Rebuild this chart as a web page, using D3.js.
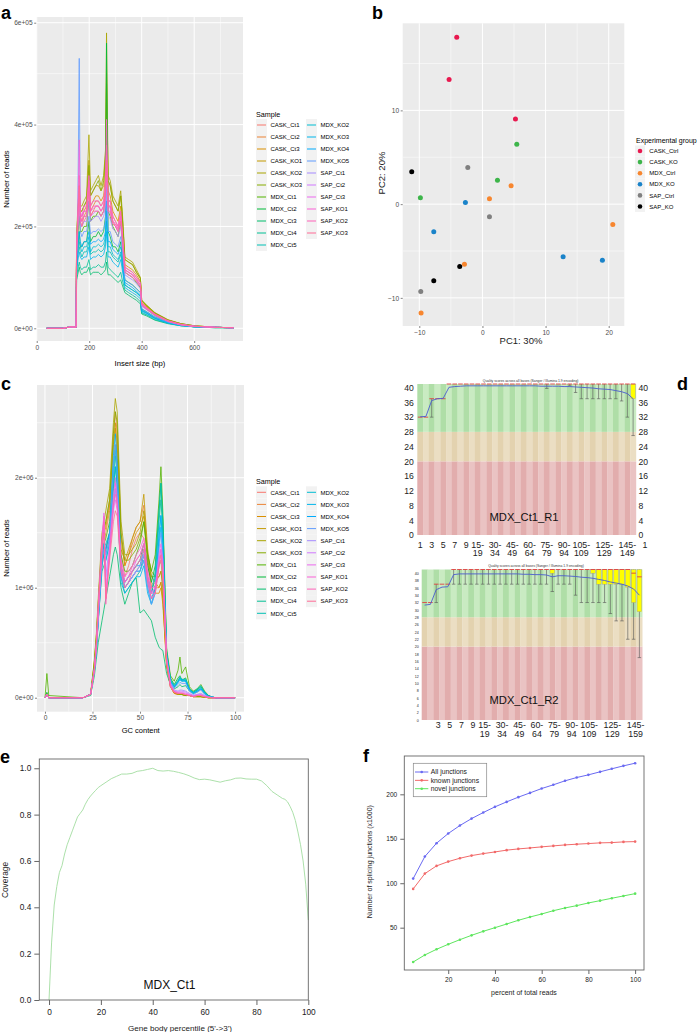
<!DOCTYPE html>
<html><head><meta charset="utf-8">
<script src="https://cdn.jsdelivr.net/npm/d3@7"></script>
<style>body{margin:0;background:#fff}svg{display:block}</style>
</head><body><script>
// ================= DATA =================
const sampleNames = ["CASK_Ct1","CASK_Ct2","CASK_Ct3","CASK_KO1","CASK_KO2","CASK_KO3","MDX_Ct1","MDX_Ct2","MDX_Ct3","MDX_Ct4","MDX_Ct5","MDX_KO2","MDX_KO3","MDX_KO4","MDX_KO5","SAP_Ct1","SAP_Ct2","SAP_Ct3","SAP_KO1","SAP_KO2","SAP_KO3"];

// (a) insert size (bp) and number of reads (x1e4) per sample
const insertSize = [38,100,130,150,152,156,162,166,172,180,190,199,205,215,225,235,245,255,262,266,272,280,290,300,310,320,326,336,350,365,380,395,400,420,450,500,550,600,680,750];
const isCASK_Ct1 = [0,0,0.3,0.2,15,19,27,21,20,21,22,27,22,23,24,24,23,24,27,38,24,24,21,20,19,22,18,11.5,11,10.5,9.5,8.5,4.8,4,2.7,1.5,0.8,0.4,0.2,0.1];
const isCASK_Ct2 = [0,0,0.3,0.2,16,20,25,22,21,22,23,29,23,24,25,25,24,25,28,40,25,25,22,21,20,23,19,12,11.5,11,10,9,5,4.1,2.8,1.5,0.8,0.4,0.2,0.1];
const isCASK_Ct3 = [0,0,0.3,0.2,16,21,26,22,22,23,24,31,24,25,26,26,25,26,30,44,27,26,23,22,21,24,20,12.5,12,11.5,10.5,9.2,5.1,4.2,2.9,1.6,0.8,0.4,0.2,0.1];
const isCASK_KO1 = [0,0,0.3,0.2,17,22,27,23,23,24,25,33,26,27,28,28,27,28,33,50,29,28,25,24,23,26,22,13.5,13,12.5,11,9.8,5.4,4.4,3,1.6,0.9,0.5,0.2,0.1];
const isCASK_KO2 = [0,0,0.3,0.2,18,23,28,24,24,25,26,38,27,28,29,30,28,30,35,58,30,29,26,25,24,27,23,14,13.5,13,11.5,10,5.6,4.5,3.1,1.7,0.9,0.5,0.2,0.1];
const isCASK_KO3 = [0,0,0.3,0.2,17,22,26,23,23,24,25,32,26,27,28,29,27,29,34,48,29,28,25,24,23,26,22,13.5,13,12.5,11,9.8,5.4,4.4,3,1.6,0.9,0.5,0.2,0.1];
const isMDX_Ct1 = [0,0,0.3,0.2,14,18,22,19,19,20,20,25,21,22,22,23,22,23,26,34,23,22,20,19,18,21,17,11,10.5,10,9,8,4.5,3.7,2.5,1.3,0.7,0.4,0.2,0.1];
const isMDX_Ct2 = [0,0,0.3,0.2,12,15,19,16,16,17,17,21,17,18,18,19,18,19,22,56,19,18,16,16,15,17,14,9.5,9,8.5,7.8,7,3.8,3.2,2.2,1.2,0.6,0.3,0.2,0.1];
const isMDX_Ct3 = [0,0,0.3,0.2,9.5,10.5,12,11,10.5,11,11,12,10.5,11,11,11,10.5,11,11.5,13,10.5,10.5,10,9.5,9,9.5,8.5,7,6.5,6,5.5,4.8,2.8,2.4,1.6,0.9,0.5,0.3,0.1,0.1];
const isMDX_Ct4 = [0,0,0.3,0.2,10,11.5,13,12,11.5,12,12,13.5,11.5,12,12,12.5,12,12,13,15,12,11.5,11,10.5,10,11,9.5,7.5,7,6.5,6,5.2,3,2.6,1.7,1,0.5,0.3,0.1,0.1];
const isMDX_Ct5 = [0,0,0.3,0.2,12,14,16,15,14,15,15,17,14.5,15,15,15.5,15,15.5,17,21,15,15,14,13.5,13,14.5,12.5,8.5,8,7.5,7,6.2,3.4,2.9,2,1.1,0.6,0.3,0.2,0.1];
const isMDX_KO2 = [0,0,0.3,0.2,12,15,17,16,15,16,16,18,15,16,16,16.5,16,16.5,18,23,16,16,14.5,14,13.5,15,13,8.5,8,7.5,7,6.3,3.5,3,2,1.1,0.6,0.3,0.2,0.1];
const isMDX_KO3 = [0,0,0.3,0.2,11,13,15,14,13.5,14,14,16,13.5,14,14,14.5,14,14.5,16,19,14,14,13,12.5,12,13.5,11.5,8,7.5,7,6.5,5.8,3.2,2.7,1.9,1,0.5,0.3,0.2,0.1];
const isMDX_KO4 = [0,0,0.3,0.2,13,16,19,17,16,17,17,19,16.5,17,17,17.5,17,17.5,19,25,17,17,15.5,15,14.5,16,14,9,8.5,8,7.3,6.5,3.6,3,2.1,1.1,0.6,0.3,0.2,0.1];
const isMDX_KO5 = [0,0,0.3,0.2,14,20,53,19,18,19,19,22,18.5,19,19,19.5,19,19.5,21,28,19,19,17,16.5,16,18,15.5,9.5,9,8.5,7.8,7,3.9,3.2,2.2,1.2,0.6,0.3,0.2,0.1];
const isSAP_Ct1 = [0,0,0.3,0.2,15,19,24,20,20,21,21,25,21,21.5,22,22,21,22,24,30,22,21.5,19.5,19,18,20,17,10.5,10,9.5,8.8,7.8,4.3,3.6,2.5,1.3,0.7,0.4,0.2,0.1];
const isSAP_Ct2 = [0,0,0.3,0.2,15,20,26,21,21,22,22,27,22,22.5,23,23,22,23,25,32,23,22.5,20.5,20,19,21,18,11,10.5,10,9.2,8.2,4.5,3.7,2.6,1.4,0.7,0.4,0.2,0.1];
const isSAP_Ct3 = [0,0,0.3,0.2,16,20,28,22,22,23,23,28,23,23.5,24,24,23,24,26,34,24,23.5,21,20.5,19.5,22,18.5,11.5,11,10.5,9.5,8.5,4.7,3.8,2.7,1.4,0.7,0.4,0.2,0.1];
const isSAP_KO1 = [0,0,0.3,0.2,17,22,37,23,22,24,24,30,24,25,25,25,24,25,29,41,25,25,22,21,20,23,19,12,11.5,11,10,9,5,4,2.8,1.5,0.8,0.4,0.2,0.1];
const isSAP_KO2 = [0,0,0.3,0.2,16,21,30,22,21,23,23,29,23,24,24,24,23,24,27,36,24,24,21,20.5,19.5,22,18.5,11.5,11,10.5,9.6,8.6,4.8,3.9,2.7,1.4,0.7,0.4,0.2,0.1];
const isSAP_KO3 = [0,0,0.3,0.2,15,20,28,21,20,22,22,27,22,23,23,23,22,23,26,33,23,23,20.5,20,19,21,18,11,10.5,10,9.2,8.2,4.6,3.7,2.6,1.4,0.7,0.4,0.2,0.1];

// (c) GC content (%) and number of reads (x1e5) per sample
const gcContent = [0,1,2,20,24,26,27,28,30,31,32,34,36,37,38,40,42,44,46,48,50,52,54,56,58,60,61,62,64,66,68,70,71,72,74,76,78,80,82,84,86,88,90,100];
const gcCASK_Ct1 = [0,0.3,0,0,0.3,2.5,4.5,7,12,13,13.5,15,19,20,18,13,11,12,13.5,14.5,15,14.5,12,10,10.5,11,11.5,10,3,1,0.4,0.3,0.3,0.3,0.2,0.2,0.1,0.1,0.1,0.05,0,0,0,0];
const gcCASK_Ct2 = [0,0.3,0,0,0.3,2.8,5,7.5,13,14,15,17,24,26,24,15,12,13,14.5,15.5,16,17.5,13,10.5,10,10,10.5,9,3,1,0.4,0.3,0.3,0.3,0.2,0.2,0.1,0.1,0.1,0.05,0,0,0,0];
const gcCASK_Ct3 = [0,0.3,0,0,0.3,3,5.2,8,14,15,15.5,17.5,23,25,23,14.5,12,13,14,15,15.5,16.5,12.5,10,9.5,9.5,10,8.5,2.8,1,0.4,0.3,0.3,0.3,0.2,0.2,0.1,0.1,0.1,0.05,0,0,0,0];
const gcCASK_KO1 = [0,0.3,0,0,0.3,3.2,5.5,8.5,14,15,16,18,23,24.5,22,13.5,12.5,13.5,14.5,15.5,16,18.5,13.5,11,10.5,10,10.5,9,3,1.1,0.5,0.3,0.3,0.3,0.2,0.2,0.1,0.1,0.1,0.05,0,0,0,0];
const gcCASK_KO2 = [0,0.3,0,0,0.3,3.5,5.7,9,15,16,17,19,25,27.2,26,16,13,13,13.5,14,15,17,13,11.5,11,11,11.5,10,3.2,1.2,0.5,0.3,0.3,0.3,0.2,0.2,0.1,0.1,0.1,0.05,0,0,0,0];
const gcCASK_KO3 = [0,0.4,0,0,0.3,3.3,5.5,8.5,14.5,15.5,16,18,24,26,25,15,12.5,12.5,13,13.5,14.5,16,12.5,11,11,12,12.5,10.5,3.3,1.2,0.5,0.4,0.3,0.3,0.2,0.2,0.1,0.1,0.1,0.05,0,0,0,0];
const gcMDX_Ct1 = [0,2.2,0.2,0,0.3,2.8,5,8,13,14,14.5,16,21,23,21,13,11.5,11.5,12,13,14,16,13,11.5,13,18,21,17,4.5,2,1.5,2.5,3.7,2.2,2.8,1,0.6,0.8,1.2,0.6,0.2,0.05,0,0];
const gcMDX_Ct2 = [0,0.5,0,0,0.3,2.6,4.6,7.5,12.5,13,13.5,15,19,21,19.5,12,10.5,11,11.5,12,12.5,14,12,10.5,12,17,19.5,16,4.2,1.8,1.2,1.8,2,1.6,1.8,0.8,0.5,0.7,1,0.5,0.2,0.05,0,0];
const gcMDX_Ct3 = [0,0.3,0,0,0.2,2,3.5,5,7,8,9,11,13,13.7,13,10,8.5,9.5,10.5,10.9,7.7,8,7.5,7,5.5,4.6,4.4,4.3,2.2,1.2,0.8,1,1.2,1,1.1,0.6,0.4,0.5,0.8,0.4,0.1,0.05,0,0];
const gcMDX_Ct4 = [0,0.3,0,0,0.3,2.4,4.2,7,11.5,12,12.5,14,17.5,19,18,11,9.5,10,10.5,11,11.5,13,11,9.5,11,16,18,15,4,1.6,1,1.5,1.8,1.5,1.6,0.8,0.5,0.7,1,0.5,0.2,0.05,0,0];
const gcMDX_Ct5 = [0,0.3,0,0,0.3,2.6,4.6,7.5,12.5,13.5,14,15,20,22,20,12,10,10.5,11,11.5,12,13.5,11,9.5,11.5,17,19.5,16,4.2,1.7,1.1,1.6,1.9,1.6,1.7,0.8,0.5,0.8,1.1,0.5,0.2,0.05,0,0];
const gcMDX_KO2 = [0,0.3,0,0,0.3,2.5,4.4,7,12.5,14,13,14.5,21,22.5,20.5,11,10,10.5,11,11.5,11.5,12.5,10,8.5,10,14.5,16.5,14,3.8,1.5,1,1.5,1.8,1.7,1.6,0.7,0.4,0.6,0.9,0.4,0.1,0.05,0,0];
const gcMDX_KO3 = [0,0.3,0,0,0.3,2.4,4.2,6.8,12,13,12.5,14,19.5,21,19,10.5,9.5,10,10.5,11,11,12,9.5,8.5,9.5,14,15.5,13,3.6,1.4,0.9,1.4,1.7,1.6,1.5,0.7,0.4,0.6,0.8,0.4,0.1,0.05,0,0];
const gcMDX_KO4 = [0,0.3,0,0,0.3,2.6,4.5,7.2,13,14,13.5,15,22,24,21.5,11.5,10.5,11,11.5,12,12,13,10.5,9,10,15,16.6,14,3.9,1.5,1,1.4,1.6,1.5,1.5,0.7,0.4,0.6,0.8,0.4,0.1,0.05,0,0];
const gcMDX_KO5 = [0,0.3,0,0,0.3,2.5,4.3,7,12.5,13.5,13,14.5,21,23,20.5,11,10,10.5,11,11.5,11.5,12.5,10,8.5,9.5,13.5,15,12.5,3.6,1.4,0.9,1.2,1.4,1.3,1.3,0.6,0.3,0.5,0.7,0.3,0.1,0.05,0,0];
const gcSAP_Ct1 = [0,0.3,0,0,0.3,2.5,4.5,7.5,13,15.5,11,14,18.5,20,18.5,12,10.5,11,11.5,12,12.5,13.5,11,9.5,10,12.5,13.5,12,3.5,1.3,0.7,0.6,0.7,0.7,0.6,0.4,0.2,0.3,0.4,0.2,0.05,0,0,0];
const gcSAP_Ct2 = [0,0.3,0,0,0.3,2.4,4.4,7.5,13.5,16,10,13.5,17.5,19,17.5,11.5,10,10.5,11,11.5,12,13,10.5,9,9.5,12,13,11.5,3.4,1.2,0.6,0.5,0.6,0.6,0.5,0.3,0.2,0.3,0.3,0.2,0.05,0,0,0];
const gcSAP_Ct3 = [0,0.3,0,0,0.3,2.6,4.8,8,14,16.8,9.5,13,17,18,17,12,10.5,11,11.5,12.5,13,14,11,9.5,10,13,14,12.5,3.5,1.2,0.6,0.5,0.5,0.5,0.4,0.3,0.2,0.2,0.3,0.1,0.05,0,0,0];
const gcSAP_KO1 = [0,0.3,0,0,0.3,2.7,5,8.5,14.5,16.5,9,13.5,18,19.5,18,12.5,11,11.5,12,13,13.5,14.5,11.5,10,10,12.5,13.5,12,3.4,1.1,0.5,0.4,0.4,0.4,0.3,0.2,0.1,0.2,0.2,0.1,0.05,0,0,0];
const gcSAP_KO2 = [0,0.3,0,0,0.3,2.6,4.9,8,14,16,8.5,13,17.5,18.5,17.5,12,10.5,11,12,12.5,13,14,11,9.5,9.5,12,12.5,11,3.2,1,0.5,0.4,0.4,0.4,0.3,0.2,0.1,0.2,0.2,0.1,0.05,0,0,0];
const gcSAP_KO3 = [0,0.3,0,0,0.3,2.5,4.7,7.8,13.5,15,9,12.5,16,17,16.5,11.5,10,10.5,11.5,12,12.5,13.5,10.5,9,9.5,12,13,11.5,3.3,1,0.5,0.4,0.4,0.4,0.3,0.2,0.1,0.2,0.2,0.1,0.05,0,0,0];

// (b) PCA
const pcaGroups = ["CASK_Ctrl","CASK_KO","MDX_Ctrl","MDX_KO","SAP_Ctrl","SAP_KO"];
const pcaGroupColors = ["#E8194F","#3DB54A","#F7862F","#1A83C9","#808080","#000000"];
const pcaGroup = ["CASK_Ctrl","CASK_Ctrl","CASK_Ctrl","CASK_KO","CASK_KO","CASK_KO","MDX_Ctrl","MDX_Ctrl","MDX_Ctrl","MDX_Ctrl","MDX_Ctrl","MDX_KO","MDX_KO","MDX_KO","MDX_KO","SAP_Ctrl","SAP_Ctrl","SAP_Ctrl","SAP_KO","SAP_KO","SAP_KO"];
const pc1 = [-4.07,-5.28,5.23, 5.44,2.38,-9.83, 4.54,1.11,20.65,-2.85,-9.72, -2.7,-7.71,12.78,19.0, -2.32,1.11,-9.77, -11.2,-3.6,-7.71];
const pc2 = [17.8,13.3,9.07, 6.4,2.56,0.67, 1.96,0.57,-2.17,-6.4,-11.6, 0.18,-2.95,-5.62,-5.98, 3.91,-1.35,-9.32, 3.45,-6.65,-8.18];

// (d) per-base quality (FastQC), 38 base-position bins
const baseBinLabelsR1 = [[0,"1",""],[2,"3",""],[4,"5",""],[6,"7",""],[8,"9",""],[10,"15-","19"],[13,"30-","34"],[16,"45-","49"],[19,"60-","64"],[22,"75-","79"],[25,"90-","94"],[28,"105-","109"],[32,"125-","129"],[36,"145-","149"]];
const baseBinLabelsR2 = [[2,"3",""],[4,"5",""],[6,"7",""],[8,"9",""],[10,"15-","19"],[13,"30-","34"],[16,"45-","49"],[19,"60-","64"],[22,"75-","79"],[25,"90-","94"],[28,"105-","109"],[32,"125-","129"],[36,"145-","159"]];
const r1Mean = [32.1,32.2,36.5,37,37.1,40.1,40.3,40.4,40.5,40.5,40.5,40.5,40.5,40.5,40.5,40.5,40.5,40.5,40.5,40.5,40.5,40.4,40.4,40.4,40.4,40.3,40.3,40.2,40.1,40.0,39.9,39.7,39.6,39.5,39.2,38.9,38.4,37.0];
const r1Median = [32,32,37,37,37,41,41,41,41,41,41,41,41,41,41,41,41,41,41,41,41,41,41,41,41,41,41,41,41,41,41,41,41,41,41,41,41,41];
const r1Low = [32,32,32,37,37,41,41,41,41,41,41,41,41,41,41,41,41,41,41,41,41,41,39.8,41,41,41,40.5,38.7,37,37,37,37,37,37,37,36.4,32,27];
const r1High = [32,32,37,37,37,41,41,41,41,41,41,41,41,41,41,41,41,41,41,41,41,41,41,41,41,41,41,41,41,41,41,41,41,41,41,41,41,41];
const r1Q25 = [32,32,37,37,37,41,41,41,41,41,41,41,41,41,41,41,41,41,41,41,41,41,41,41,41,41,41,41,41,41,41,41,41,41,41,41,41,37];
const r1Q75 = r1High;
const r2Mean = [31.3,31.5,35.5,36.2,36.3,39.6,39.8,39.8,39.8,39.8,39.8,39.8,39.8,39.8,39.8,39.8,39.8,39.7,39.7,39.6,39.6,39.5,39.0,39.3,39.3,39.2,39.1,38.9,38.8,38.6,38.3,38.0,37.6,37.3,37.0,36.5,35.7,34.0];
const r2Median = [32,32,37,37,37,41,41,41,41,41,41,41,41,41,41,41,41,41,41,41,41,41,41,41,41,41,41,41,41,41,41,41,41,41,41,41,40,39];
const r2Low = [32,32,32,37,37,37,37,37,37,37,37,37,37,37,37,37,37,37,37,37,37,37,35,37,37,37,34,32,32,32,32,32,29,27,27,22,22,17];
const r2High = [32,32,37,37,37,41,41,41,41,41,41,41,41,41,41,41,41,41,41,41,41,41,41,41,41,41,41,41,41,41,41,41,41,41,41,41,41,41];
const r2Q25 = [32,32,37,37,37,41,41,41,41,41,41,41,41,41,41,41,41,41,41,41,41,41,40,41,41,41,41,41,41,40,37,37,37,37,37,36.2,32,29.5];
const r2Q75 = r2High;

// (e) gene body coverage
const geneBodyPct = [0,1,2,3,4,5,6,7,8,9,10,11,12,13,14,15,16,17,18,19,20,22,24,26,28,30,32,34,36,38,40,42,44,46,48,50,52,54,56,58,60,62,64,66,68,70,72,74,76,78,80,82,84,86,88,90,91,92,93,94,95,96,97,98,99,100];
const coverage = [0,0.25,0.41,0.49,0.55,0.58,0.63,0.67,0.7,0.73,0.76,0.79,0.805,0.82,0.845,0.865,0.88,0.893,0.905,0.917,0.925,0.94,0.955,0.965,0.975,0.975,0.978,0.987,0.99,0.995,1.0,0.99,0.988,0.99,0.987,0.982,0.976,0.968,0.958,0.951,0.953,0.95,0.945,0.94,0.946,0.95,0.957,0.958,0.954,0.953,0.953,0.945,0.925,0.9,0.885,0.87,0.866,0.855,0.835,0.81,0.775,0.725,0.67,0.6,0.5,0.345];

// (f) junction saturation
const pctReads = [5,10,15,20,25,30,35,40,45,50,55,60,65,70,75,80,85,90,95,100];
const allJunctions = [105.2,130,145,155.9,164.9,172.7,179.5,185.9,191.5,196.8,201.6,206.5,210.7,215.2,218.9,221.9,225.3,228.7,232,235];
const knownJunctions = [93.6,110.8,119.5,124.3,128.1,131.1,133.3,135.2,137.2,138.6,139.7,140.9,142,143.1,143.9,144.6,145.4,145.7,146.5,146.8];
const novelJunctions = [11.4,19.3,25.7,31.3,36.5,41.4,45.9,50,54.1,58.3,62,65.4,69.1,72.2,74.8,77.8,80.4,83.1,85.7,88.3];
const junctionLegend = ["All junctions","known junctions","novel junctions"];

// ================= HELPERS =================
const FONT = '"Liberation Sans", Arial, Helvetica, sans-serif';
const svg = d3.select("body").append("svg").attr("width",697).attr("height",1032).style("font-family",FONT);

function hclLuv(h,c,l){
  const r=Math.PI/180, Xn=0.95047, Yn=1, Zn=1.08883;
  const un=4*Xn/(Xn+15*Yn+3*Zn), vn=9*Yn/(Xn+15*Yn+3*Zn);
  const U=c*Math.cos(h*r), V=c*Math.sin(h*r);
  const Y=Yn*(l>8?Math.pow((l+16)/116,3):l/903.3);
  const u=U/(13*l)+un, v=V/(13*l)+vn;
  const X=9*Y*u/(4*v), Z=Y*(12-3*u-20*v)/(4*v);
  const lin=[3.240479*X-1.537150*Y-0.498535*Z,-0.969256*X+1.875992*Y+0.041556*Z,0.055648*X-0.204043*Y+1.057311*Z];
  const g=t=>t<=0.0031308?12.92*t:1.055*Math.pow(t,1/2.4)-0.055;
  const c3=lin.map(t=>Math.round(255*Math.max(0,Math.min(1,g(t)))));
  return d3.rgb(c3[0],c3[1],c3[2]).formatHex();
}
const sampleColors = sampleNames.map((s,i)=>hclLuv(15+i*360/sampleNames.length,100,65));

function fmtE(v){
  if(v===0) return "0e+00";
  const e=Math.floor(Math.log10(v)+1e-9), m=Math.round(v/Math.pow(10,e));
  return m+"e+"+String(e).padStart(2,"0");
}

function ggPanel(xs,ys,xMaj,xMin,yMaj,yMin){
  const g=svg.append("g");
  const [x0,x1]=xs.range(), [y1,y0]=ys.range();
  g.append("rect").attr("x",x0).attr("y",y0).attr("width",x1-x0).attr("height",y1-y0).attr("fill","#EBEBEB");
  xMin.forEach(v=>g.append("line").attr("x1",xs(v)).attr("x2",xs(v)).attr("y1",y0).attr("y2",y1).attr("stroke","#fff").attr("stroke-width",0.5));
  yMin.forEach(v=>g.append("line").attr("y1",ys(v)).attr("y2",ys(v)).attr("x1",x0).attr("x2",x1).attr("stroke","#fff").attr("stroke-width",0.5));
  xMaj.forEach(v=>g.append("line").attr("x1",xs(v)).attr("x2",xs(v)).attr("y1",y0).attr("y2",y1).attr("stroke","#fff").attr("stroke-width",1));
  yMaj.forEach(v=>g.append("line").attr("y1",ys(v)).attr("y2",ys(v)).attr("x1",x0).attr("x2",x1).attr("stroke","#fff").attr("stroke-width",1));
  svg.append("g").attr("transform",`translate(0,${y1})`)
    .call(d3.axisBottom(xs).tickValues(xMaj).tickSize(2).tickPadding(2).tickFormat(xs.fmt||null))
    .call(a=>{a.select(".domain").remove();a.selectAll("line").attr("stroke","#333").attr("stroke-width",0.6);
      a.selectAll("text").attr("fill","#4D4D4D").attr("font-size",6.6).attr("font-family",FONT);});
  svg.append("g").attr("transform",`translate(${x0},0)`)
    .call(d3.axisLeft(ys).tickValues(yMaj).tickSize(2).tickPadding(1.5).tickFormat(ys.fmt||null))
    .call(a=>{a.select(".domain").remove();a.selectAll("line").attr("stroke","#333").attr("stroke-width",0.6);
      a.selectAll("text").attr("fill","#4D4D4D").attr("font-size",6.6).attr("font-family",FONT);});
  return g;
}
function txt(x,y,s,size,opts={}){
  const t=svg.append("text").attr("x",x).attr("y",y).text(s).attr("font-size",size).attr("fill",opts.fill||"#000")
    .attr("text-anchor",opts.anchor||"start");
  if(opts.bold) t.attr("font-weight","bold");
  if(opts.rot) t.attr("transform",`rotate(-90,${x},${y})`);
  return t;
}
function sampleLegend(x,yTitle,y0,step){
  txt(x,yTitle,"Sample",7.2);
  sampleNames.forEach((s,i)=>{
    const col=i<11?0:1, row=col?i-11:i;
    const kx=x+col*50, ky=y0+row*step;
    svg.append("rect").attr("x",kx).attr("y",ky-6).attr("width",11).attr("height",12).attr("fill","#F2F2F2");
    svg.append("line").attr("x1",kx+1).attr("x2",kx+10).attr("y1",ky).attr("y2",ky).attr("stroke",sampleColors[i]).attr("stroke-width",1);
    txt(kx+14.5,ky+2.2,s,6);
  });
}

// ================= PANEL A =================
const xA=d3.scaleLinear().domain([-2,786]).range([36.2,243]);
const yA=d3.scaleLinear().domain([-24930,611200]).range([341,17]); yA.fmt=fmtE;
const gA=ggPanel(xA,yA,[0,200,400,600],[100,300,500,700],[0,2e5,4e5,6e5],[1e5,3e5,5e5]);
const insertSeries=[isCASK_Ct1,isCASK_Ct2,isCASK_Ct3,isCASK_KO1,isCASK_KO2,isCASK_KO3,isMDX_Ct1,isMDX_Ct2,isMDX_Ct3,isMDX_Ct4,isMDX_Ct5,isMDX_KO2,isMDX_KO3,isMDX_KO4,isMDX_KO5,isSAP_Ct1,isSAP_Ct2,isSAP_Ct3,isSAP_KO1,isSAP_KO2,isSAP_KO3];
const lineA=d3.line().x((d,i)=>xA(insertSize[i])).y(d=>yA(d*1e4));
insertSeries.forEach((s,i)=>gA.append("path").attr("d",lineA(s)).attr("fill","none").attr("stroke",sampleColors[i]).attr("stroke-width",0.8));
txt(140,365.5,"Insert size (bp)",7.7,{anchor:"middle"});
txt(8.5,179,"Number of reads",7.7,{anchor:"middle",rot:true});
sampleLegend(256,116.5,125,12);
txt(1,19,"a",18,{bold:true});

// ================= PANEL C =================
const xC=d3.scaleLinear().domain([-4.2,104.7]).range([37,244]);
const yC=d3.scaleLinear().domain([-127000,2843000]).range([711.7,385]); yC.fmt=fmtE;
const gC=ggPanel(xC,yC,[0,25,50,75,100],[12.5,37.5,62.5,87.5],[0,1e6,2e6],[5e5,1.5e6,2.5e6]);
const gcSeries=[gcCASK_Ct1,gcCASK_Ct2,gcCASK_Ct3,gcCASK_KO1,gcCASK_KO2,gcCASK_KO3,gcMDX_Ct1,gcMDX_Ct2,gcMDX_Ct3,gcMDX_Ct4,gcMDX_Ct5,gcMDX_KO2,gcMDX_KO3,gcMDX_KO4,gcMDX_KO5,gcSAP_Ct1,gcSAP_Ct2,gcSAP_Ct3,gcSAP_KO1,gcSAP_KO2,gcSAP_KO3];
const lineC=d3.line().x((d,i)=>xC(gcContent[i])).y(d=>yC(d*1e5));
gcSeries.forEach((s,i)=>gC.append("path").attr("d",lineC(s)).attr("fill","none").attr("stroke",sampleColors[i]).attr("stroke-width",0.8));
txt(140.7,732.5,"GC content",7.5,{anchor:"middle"});
txt(8.5,548,"Number of reads",7.7,{anchor:"middle",rot:true});
sampleLegend(256,484,492.3,12.1);
txt(1,390,"c",18,{bold:true});

// ================= PANEL B =================
const xB=d3.scaleLinear().domain([-12.63,22.47]).range([402.7,624.3]);
const yB=d3.scaleLinear().domain([-13.0,19.29]).range([326,23.3]);
const gB=ggPanel(xB,yB,[-10,0,10,20],[-5,5,15],[-10,0,10],[-5,5,15]);
const colB=d3.scaleOrdinal().domain(pcaGroups).range(pcaGroupColors);
pc1.forEach((v,i)=>gB.append("circle").attr("cx",xB(v)).attr("cy",yB(pc2[i])).attr("r",2.5).attr("fill",colB(pcaGroup[i])));
txt(521,343.5,"PC1: 30%",9.5,{anchor:"middle",fill:"#222"});
txt(385,173,"PC2: 20%",9.5,{anchor:"middle",rot:true,fill:"#222"});
txt(636,142.5,"Experimental group",7);
pcaGroups.forEach((gname,i)=>{
  const ky=151+i*11.1;
  svg.append("rect").attr("x",635).attr("y",ky-5.5).attr("width",10).attr("height",11).attr("fill","#F2F2F2");
  svg.append("circle").attr("cx",640).attr("cy",ky).attr("r",2.3).attr("fill",colB(gname));
  txt(649.3,ky+2.1,gname,6);
});
txt(372,19,"b",18,{bold:true});

// ================= PANEL D =================
function fastqc(x0,x1,yBot,yTop,mean,median,lo,hi,q25,q75,labels,lab1,lab2,opts){
  const bx=d3.scaleBand().domain(d3.range(mean.length)).range([x0,x1]);
  const qy=d3.scaleLinear().domain([0,41]).range([yBot,yTop]);
  const g=svg.append("g");
  const zones=[[0,20,"#EAC3C3","#E2ADAD"],[20,28,"#EBDEC3","#E3D2AF"],[28,41,"#C9EBC2","#AFDEA7"]];
  d3.range(mean.length).forEach(i=>zones.forEach(z=>{
    g.append("rect").attr("x",bx(i)).attr("y",qy(z[1])).attr("width",bx.bandwidth()+0.2).attr("height",qy(z[0])-qy(z[1]))
      .attr("fill",i%2?z[2]:z[3]);
  }));
  const bw=bx.bandwidth();
  d3.range(mean.length).forEach(i=>{
    const cx=bx(i)+bw/2;
    if(hi[i]>lo[i]){
      g.append("line").attr("x1",cx).attr("x2",cx).attr("y1",qy(hi[i])).attr("y2",qy(lo[i])).attr("stroke","#555").attr("stroke-width",0.6);
      g.append("line").attr("x1",cx-bw*0.3).attr("x2",cx+bw*0.3).attr("y1",qy(lo[i])).attr("y2",qy(lo[i])).attr("stroke","#555").attr("stroke-width",0.6);
    }
    if(q75[i]>q25[i]) g.append("rect").attr("x",cx-bw*0.4).attr("width",bw*0.8).attr("y",qy(q75[i])).attr("height",qy(q25[i])-qy(q75[i]))
      .attr("fill","#FFFF00").attr("stroke","#999").attr("stroke-width",0.4);
    g.append("line").attr("x1",cx-bw*0.4).attr("x2",cx+bw*0.4).attr("y1",qy(median[i])).attr("y2",qy(median[i])).attr("stroke","#E04040").attr("stroke-width",0.9);
  });
  g.append("path").attr("d",d3.line().x((d,i)=>bx(i)+bw/2).y(d=>qy(d))(mean)).attr("fill","none").attr("stroke","#4A5BD0").attr("stroke-width",0.9);
  txt((x0+x1)/2+4,yTop-2.5,"Quality scores across all bases (Sanger / Illumina 1.9 encoding)",3.4,{anchor:"middle",fill:"#333"});
  const left=svg.append("g").attr("transform",`translate(${x0},0)`)
    .call(d3.axisLeft(qy).tickValues(opts.yTicks).tickSize(0).tickPadding(opts.pad).tickFormat(d3.format("d")));
  left.select(".domain").remove();
  left.selectAll("text").attr("font-size",opts.ySize).attr("font-family",FONT).attr("fill","#222");
  if(opts.right){
    const right=svg.append("g").attr("transform",`translate(${x1},0)`)
      .call(d3.axisRight(qy).tickValues(opts.yTicks).tickSize(0).tickPadding(2.5).tickFormat(d3.format("d")));
    right.select(".domain").remove();
    right.selectAll("text").attr("font-size",opts.ySize).attr("font-family",FONT).attr("fill","#222");
  }
  labels.forEach(([b,l1,l2])=>{
    const cx=bx(b)+bw/2+opts.labShift;
    txt(cx,lab1,l1,8.8,{anchor:"middle",fill:"#222"});
    if(l2) txt(cx,lab2,l2,8.8,{anchor:"middle",fill:"#222"});
  });
  return bx;
}
fastqc(417.3,636,535,384,r1Mean,r1Median,r1Low,r1High,r1Q25,r1Q75,baseBinLabelsR1,547.5,555.8,
  {yTicks:d3.range(0,41,4),pad:3.5,ySize:8.6,right:true,labShift:0});
txt(645,547.5,"1",8.8,{anchor:"middle",fill:"#222"});
txt(524,520.5,"MDX_Ct1_R1",11.2,{anchor:"middle",fill:"#111"});
fastqc(421.7,642.3,720,569.5,r2Mean,r2Median,r2Low,r2High,r2Q25,r2Q75,baseBinLabelsR2,728.3,736.6,
  {yTicks:d3.range(0,41,2),pad:3,ySize:3.6,right:false,labShift:2});
txt(524,703.5,"MDX_Ct1_R2",11.2,{anchor:"middle",fill:"#111"});
txt(677,390,"d",18,{bold:true});

// ================= PANEL E =================
const xE=d3.scaleLinear().domain([-3.75,100]).range([39.3,308.3]);
const yE=d3.scaleLinear().domain([0,1.04]).range([1000,759]);
svg.append("path").attr("d",d3.line().x((d,i)=>xE(geneBodyPct[i])).y(d=>yE(d))(coverage)).attr("fill","none").attr("stroke","#A3DDA0").attr("stroke-width",0.9);
svg.append("rect").attr("x",39.3).attr("y",759).attr("width",269).attr("height",241).attr("fill","none").attr("stroke","#666").attr("stroke-width",0.9);
const axE1=svg.append("g").attr("transform","translate(39.3,0)").call(d3.axisLeft(yE).tickValues([0,0.2,0.4,0.6,0.8,1.0]).tickFormat(d3.format(".1f")).tickSize(5).tickPadding(3));
const axE2=svg.append("g").attr("transform","translate(0,1000)").call(d3.axisBottom(xE).tickValues([0,20,40,60,80,100]).tickSize(5).tickPadding(4));
[axE1,axE2].forEach(a=>{a.select(".domain").remove();a.selectAll("line").attr("stroke","#666");a.selectAll("text").attr("font-size",8.3).attr("font-family",FONT).attr("fill","#222");});
txt(180,1031,"Gene body percentile (5'->3')",8.1,{anchor:"middle",fill:"#222"});
txt(8,880,"Coverage",8.3,{anchor:"middle",rot:true,fill:"#222"});
txt(169.5,989,"MDX_Ct1",12,{anchor:"middle",fill:"#111"});
txt(0,763,"e",18,{bold:true});

// ================= PANEL F =================
const xF=d3.scaleLinear().domain([1.2,103.8]).range([404.3,644]);
const yF=d3.scaleLinear().domain([2.4,243.1]).range([970,756]);
const fCols=["#6A6AF2","#F26A6A","#5EE65E"];
[allJunctions,knownJunctions,novelJunctions].forEach((s,k)=>{
  svg.append("path").attr("d",d3.line().x((d,i)=>xF(pctReads[i])).y(d=>yF(d))(s)).attr("fill","none").attr("stroke",fCols[k]).attr("stroke-width",1);
  s.forEach((d,i)=>svg.append("circle").attr("cx",xF(pctReads[i])).attr("cy",yF(d)).attr("r",1.3).attr("fill",fCols[k]));
});
svg.append("rect").attr("x",404.3).attr("y",756).attr("width",239.7).attr("height",214).attr("fill","none").attr("stroke","#666").attr("stroke-width",0.9);
const axF1=svg.append("g").attr("transform","translate(404.3,0)").call(d3.axisLeft(yF).tickValues([50,100,150,200]).tickSize(4).tickPadding(3));
const axF2=svg.append("g").attr("transform","translate(0,970)").call(d3.axisBottom(xF).tickValues([20,40,60,80,100]).tickSize(4).tickPadding(3));
[axF1,axF2].forEach(a=>{a.select(".domain").remove();a.selectAll("line").attr("stroke","#666");a.selectAll("text").attr("font-size",6.6).attr("font-family",FONT).attr("fill","#222");});
txt(524,994.5,"percent of total reads",7,{anchor:"middle",fill:"#222"});
txt(371.8,861.7,"Number of splicing junctions (x1000)",7,{anchor:"middle",rot:true,fill:"#222"});
svg.append("rect").attr("x",413.3).attr("y",763.3).attr("width",73.4).attr("height",33.4).attr("fill","#fff").attr("stroke","#888").attr("stroke-width",0.7);
junctionLegend.forEach((s,k)=>{
  const ly=772+k*8.35;
  svg.append("line").attr("x1",415).attr("x2",428.3).attr("y1",ly).attr("y2",ly).attr("stroke",fCols[k]).attr("stroke-width",1);
  svg.append("circle").attr("cx",421.7).attr("cy",ly).attr("r",1.3).attr("fill",fCols[k]);
  txt(430.7,ly+2.3,s,6.8,{fill:"#222"});
});
txt(363,762,"f",18,{bold:true});
</script></body></html>
